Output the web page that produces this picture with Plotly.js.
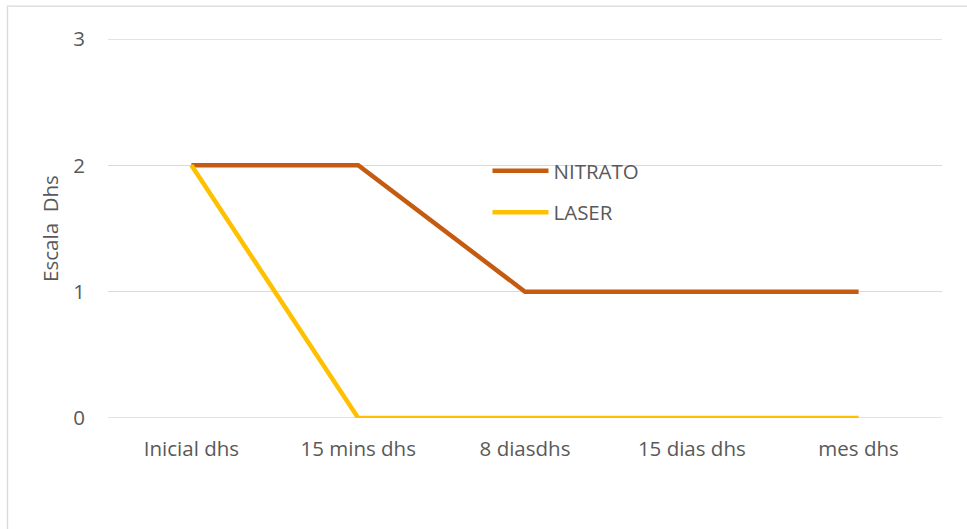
<!DOCTYPE html>
<html>
<head>
<meta charset="utf-8">
<script src="https://cdn.plot.ly/plotly-3.0.1.min.js"></script>
<style>
  html, body { margin: 0; padding: 0; background: #fff; }
  #chart { width: 967px; height: 529px; }
</style>
</head>
<body>
<div id="chart"></div>
<script>
// Categories and series values
const categories = ['Inicial dhs', '15 mins dhs', '8 diasdhs', '15 dias dhs', 'mes dhs'];
const nitrato = [2, 2, 1, 1, 1];
const laser = [2, 0, 0, 0, 0];
const yTicks = [0, 1, 2, 3];

const textColor = '#595959';
const font = { family: 'Open Sans, Noto Sans, sans-serif', size: 20.5, color: textColor };
const gridColor = '#D9D9D9';

const traces = [
  {
    x: categories, y: nitrato, name: 'NITRATO', type: 'scatter', mode: 'lines',
    line: { color: '#C55A11', width: 4.5 }, legendgroup: 'a'
  },
  {
    x: categories, y: laser, name: 'LASER', type: 'scatter', mode: 'lines',
    line: { color: '#FFC000', width: 4.5 }, legendgroup: 'b'
  }
];

// horizontal reference lines at the axis ends (grid skips the range edges)
const edgeLines = [yTicks[0], yTicks[yTicks.length - 1]].map(v => ({
  type: 'line', xref: 'paper', yref: 'y', x0: 0, x1: 1, y0: v, y1: v,
  line: { color: gridColor, width: 1.3 }, layer: 'below'
}));

const layout = {
  width: 967, height: 529,
  margin: { l: 108, r: 25, t: 39, b: 111 },
  paper_bgcolor: '#ffffff', plot_bgcolor: '#ffffff',
  font: font,
  showlegend: true,
  legend: {
    x: 0.455, y: 0.705, xanchor: 'left', yanchor: 'top',
    bgcolor: 'rgba(0,0,0,0)', font: font,
    traceorder: 'grouped', tracegroupgap: 12, itemwidth: 56
  },
  xaxis: {
    type: 'category', range: [-0.5, 4.5],
    showgrid: false, zeroline: false, showline: false,
    ticks: 'outside', ticklen: 12, tickcolor: 'rgba(0,0,0,0)',
    tickfont: font, fixedrange: true
  },
  yaxis: {
    range: [0, 3], tickvals: yTicks, ticktext: yTicks.map(String),
    showgrid: true, gridcolor: gridColor, gridwidth: 1.3,
    zeroline: false, showline: false, ticks: 'outside', ticklen: 18, tickcolor: 'rgba(0,0,0,0)',
    tickfont: font,
    title: { text: 'Escala  Dhs', font: font, standoff: 8 }
  },
  shapes: edgeLines.concat([
    {
      // chart frame
      type: 'rect', xref: 'paper', yref: 'paper',
      x0: -0.1205, x1: 1.2, y0: -0.4, y1: 1.087,
      line: { color: gridColor, width: 1.3 }, fillcolor: 'rgba(0,0,0,0)'
    }
  ])
};

Plotly.newPlot('chart', traces, layout, { displayModeBar: false, staticPlot: true });
</script>
</body>
</html>
